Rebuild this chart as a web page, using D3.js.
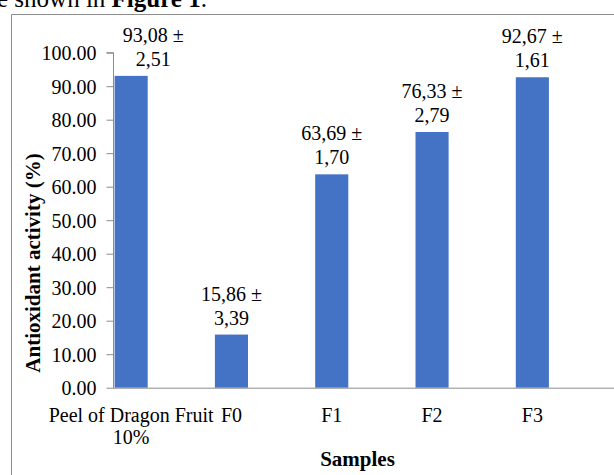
<!DOCTYPE html>
<html>
<head>
<meta charset="utf-8">
<script src="https://cdn.jsdelivr.net/npm/d3@7/dist/d3.min.js"></script>
<style>
  html, body { margin: 0; padding: 0; background: #fff; }
  svg { display: block; }
  text { font-family: "Liberation Serif", "Times New Roman", serif; fill: #000; }
</style>
</head>
<body>
<svg id="chart" width="614" height="475" font-family="Liberation Serif, Times New Roman, serif"></svg>
<script>
const categories = ["Peel of Dragon Fruit|10%", "F0", "F1", "F2", "F3"];
const values = [93.08, 15.86, 63.69, 76.33, 92.67];
const errors = ["2,51", "3,39", "1,70", "2,79", "1,61"];
const means = ["93,08", "15,86", "63,69", "76,33", "92,67"];
const yTicks = [0, 10, 20, 30, 40, 50, 60, 70, 80, 90, 100];

const svg = d3.select("#chart");
const SERIF = "Liberation Serif, Times New Roman, serif";

// Surrounding text of the page (cut off at top, as in the reference)
const cap = svg.append("text").attr("x", -3).attr("y", 7).attr("font-size", 25).attr("font-family", SERIF);
cap.append("tspan").text("e shown in ");
cap.append("tspan").attr("font-weight", "bold").text("Figure 1");
cap.append("tspan").text(".");

// Frame (open at right and bottom)
svg.append("path")
  .attr("d", "M11.5,475 V14.5 H614")
  .attr("fill", "none").attr("stroke", "#8c8c8c").attr("stroke-width", 1);

const y = d3.scaleLinear().domain([0, 100]).range([387.7, 52.7]);
const x = d3.scaleBand().domain(categories).range([81, 582.5])
  .paddingInner(0.67).paddingOuter(0.335);

// Y axis
const yAxis = svg.append("g").attr("transform", "translate(113.5,0)")
  .call(d3.axisLeft(y).tickValues(yTicks).tickFormat(d3.format(".2f")).tickSize(7).tickPadding(10));
yAxis.attr("font-family", SERIF);
yAxis.select(".domain").attr("stroke", "#8c8c8c").attr("d", "M-7," + y(100) + "H0V" + y(0));
yAxis.selectAll(".tick line").attr("stroke", "#8c8c8c");
yAxis.selectAll(".tick text").attr("font-size", 20)
  .attr("font-family", SERIF).attr("fill", "#000").attr("dy", "0.34em");

// Bars
svg.append("g").selectAll("rect").data(values).join("rect")
  .attr("x", (d, i) => x(categories[i]))
  .attr("width", x.bandwidth())
  .attr("y", d => y(d))
  .attr("height", d => y(0) - y(d))
  .attr("fill", "#4472c4");

// X axis line
svg.append("line").attr("x1", 113).attr("x2", 614)
  .attr("y1", y(0) + 0.5).attr("y2", y(0) + 0.5)
  .attr("stroke", "#8c8c8c").attr("stroke-width", 1);

// X tick labels
const xl = svg.append("g").selectAll("text").data(categories).join("text")
  .attr("text-anchor", "middle").attr("font-size", 20).attr("font-family", SERIF)
  .attr("transform", d => `translate(${x(d) + x.bandwidth() / 2},${y(0) + 34})`);
xl.each(function(d) {
  const parts = d.split("|");
  const t = d3.select(this);
  parts.forEach((p, j) => t.append("tspan").attr("x", 0).attr("y", j * 22.5).text(p));
});

// Data labels (first one nudged right, clear of the axis)
const dl = svg.append("g").selectAll("text").data(values).join("text")
  .attr("text-anchor", "middle").attr("font-size", 20).attr("font-family", SERIF)
  .attr("transform", (d, i) => `translate(${x(categories[i]) + x.bandwidth() / 2 + (i === 0 ? 22 : 0)},${y(d) - 10})`);
dl.each(function(d, i) {
  const t = d3.select(this);
  t.append("tspan").attr("x", 0).attr("y", -24).text(means[i] + " ±");
  t.append("tspan").attr("x", 0).attr("y", 0).text(errors[i]);
});

// Axis titles
svg.append("text").attr("text-anchor", "middle").attr("font-weight", "bold").attr("font-size", 21)
  .attr("font-family", SERIF)
  .attr("transform", "translate(39.5,263) rotate(-90)").text("Antioxidant activity (%)");
svg.append("text").attr("text-anchor", "middle").attr("font-weight", "bold").attr("font-size", 21)
  .attr("font-family", SERIF)
  .attr("x", 357.5).attr("y", 466).text("Samples");
</script>
</body>
</html>
